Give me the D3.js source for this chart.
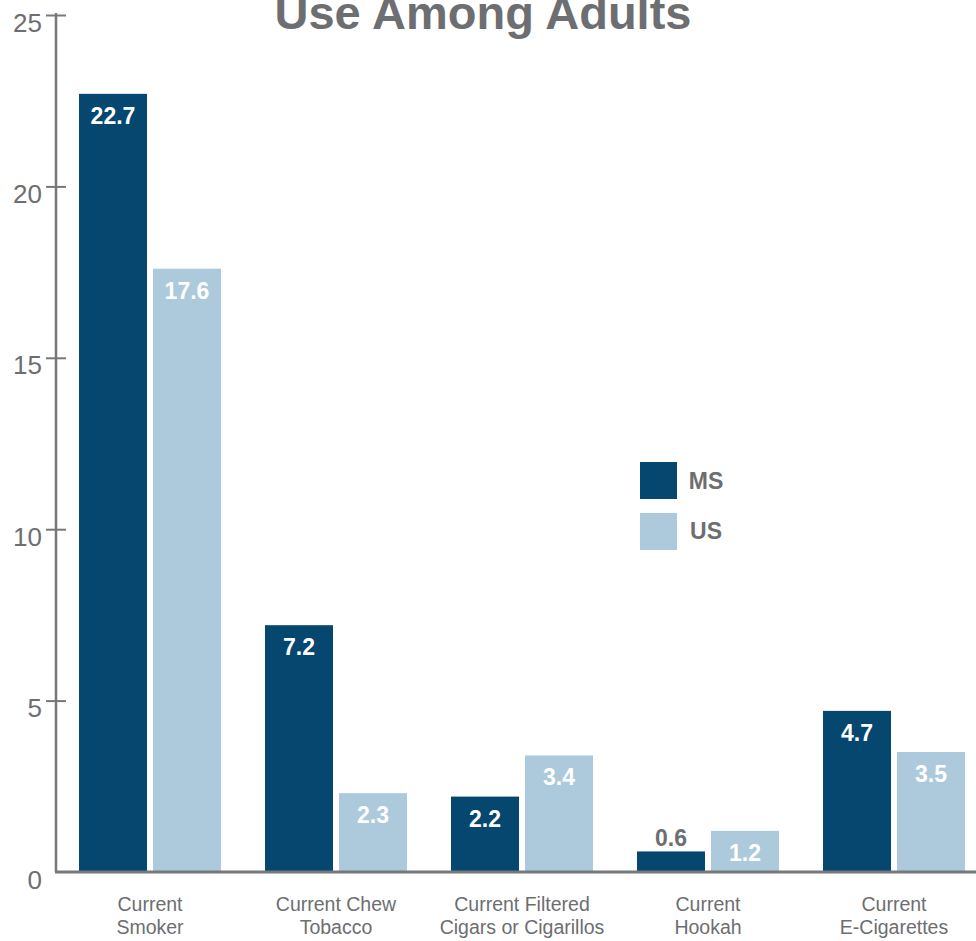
<!DOCTYPE html>
<html>
<head>
<meta charset="utf-8">
<script src="https://cdn.jsdelivr.net/npm/d3@7"></script>
<style>
  html, body { margin: 0; padding: 0; background: #fff; }
  svg { display: block; }
</style>
</head>
<body>
<div id="chart"></div>
<script>
const categories = [
  ["Current", "Smoker"],
  ["Current Chew", "Tobacco"],
  ["Current Filtered", "Cigars or Cigarillos"],
  ["Current", "Hookah"],
  ["Current", "E-Cigarettes"]
];
const seriesNames = ["MS", "US"];
const msValues = [22.7, 7.2, 2.2, 0.6, 4.7];
const usValues = [17.6, 2.3, 3.4, 1.2, 3.5];
const yTicks = [0, 5, 10, 15, 20, 25];
const title = "Use Among Adults";

const W = 976, H = 941;
const colors = { MS: "#05476f", US: "#adcadc" };
const gray = "#6d6e71";
const axisGray = "#77787b";

const svg = d3.select("#chart").append("svg").attr("width", W).attr("height", H);

const y = d3.scaleLinear().domain([0, 25]).range([872, 15]);
const x0 = d3.scaleBand().domain(d3.range(categories.length)).range([57, 987])
  .paddingInner(44 / 186).paddingOuter(22 / 186);
const x1 = d3.scaleBand().domain(seriesNames).range([0, x0.bandwidth()])
  .paddingInner(6 / 74).paddingOuter(0);

// title
svg.append("text").attr("x", 483).attr("y", 29).attr("text-anchor", "middle")
  .attr("font-family", "Liberation Sans, Arial, sans-serif").attr("font-weight", "bold")
  .attr("font-size", 47).attr("fill", gray).text(title);

// y axis
const yAxis = svg.append("g").attr("transform", "translate(56,0)")
  .call(d3.axisLeft(y).tickValues(yTicks).tickSize(10).tickPadding(14));
yAxis.select(".domain").remove();
yAxis.selectAll(".tick line").attr("x1", -10).attr("x2", 10)
  .attr("stroke", axisGray).attr("stroke-width", 2)
  .filter(d => d === 0).remove();
yAxis.selectAll(".tick text").attr("font-family", "Liberation Sans, Arial, sans-serif")
  .attr("font-size", 26).attr("fill", gray).attr("dy", "0.62em").attr("x", -14);
svg.append("line").attr("x1", 56).attr("x2", 56).attr("y1", 13).attr("y2", 872)
  .attr("stroke", axisGray).attr("stroke-width", 2.5);

// bars
const data = categories.map((c, i) => ({ i, vals: [
  { key: "MS", v: msValues[i] }, { key: "US", v: usValues[i] }] }));

const groups = svg.selectAll("g.grp").data(data).join("g").attr("class", "grp")
  .attr("transform", d => `translate(${x0(d.i)},0)`);

groups.selectAll("rect").data(d => d.vals).join("rect")
  .attr("x", d => x1(d.key)).attr("width", x1.bandwidth())
  .attr("y", d => y(d.v)).attr("height", d => y(0) - y(d.v))
  .attr("fill", d => colors[d.key]);

groups.selectAll("text.val").data(d => d.vals).join("text").attr("class", "val")
  .attr("x", d => x1(d.key) + x1.bandwidth() / 2)
  .attr("y", d => (y(0) - y(d.v) < 30) && d.key === "MS" ? y(d.v) - 5 : y(d.v) + 30)
  .attr("text-anchor", "middle")
  .attr("font-family", "Liberation Sans, Arial, sans-serif").attr("font-weight", "bold")
  .attr("font-size", 23)
  .attr("fill", d => (y(0) - y(d.v) < 30) && d.key === "MS" ? gray : "#fff")
  .text(d => d3.format(".1f")(d.v));

// x axis baseline
svg.append("line").attr("x1", 55).attr("x2", 976).attr("y1", 872).attr("y2", 872)
  .attr("stroke", axisGray).attr("stroke-width", 3);

// category labels
const xAxisG = svg.append("g");
categories.forEach((c, i) => {
  const t = xAxisG.append("text").attr("x", x0(i) + x0.bandwidth() / 2).attr("y", 911)
    .attr("text-anchor", "middle").attr("font-family", "Liberation Sans, Arial, sans-serif")
    .attr("font-size", 19.5).attr("fill", gray);
  c.forEach((line, j) => {
    t.append("tspan").attr("x", x0(i) + x0.bandwidth() / 2).attr("dy", j === 0 ? 0 : 23).text(line);
  });
});

// legend
const legend = svg.append("g");
seriesNames.forEach((s, i) => {
  legend.append("rect").attr("x", 640).attr("y", 462 + i * 51).attr("width", 37).attr("height", 37)
    .attr("fill", colors[s]);
  legend.append("text").attr("x", 706).attr("y", 489 + i * 50).attr("text-anchor", "middle")
    .attr("font-family", "Liberation Sans, Arial, sans-serif").attr("font-weight", "bold")
    .attr("font-size", 23).attr("fill", gray).text(s);
});
</script>
</body>
</html>
